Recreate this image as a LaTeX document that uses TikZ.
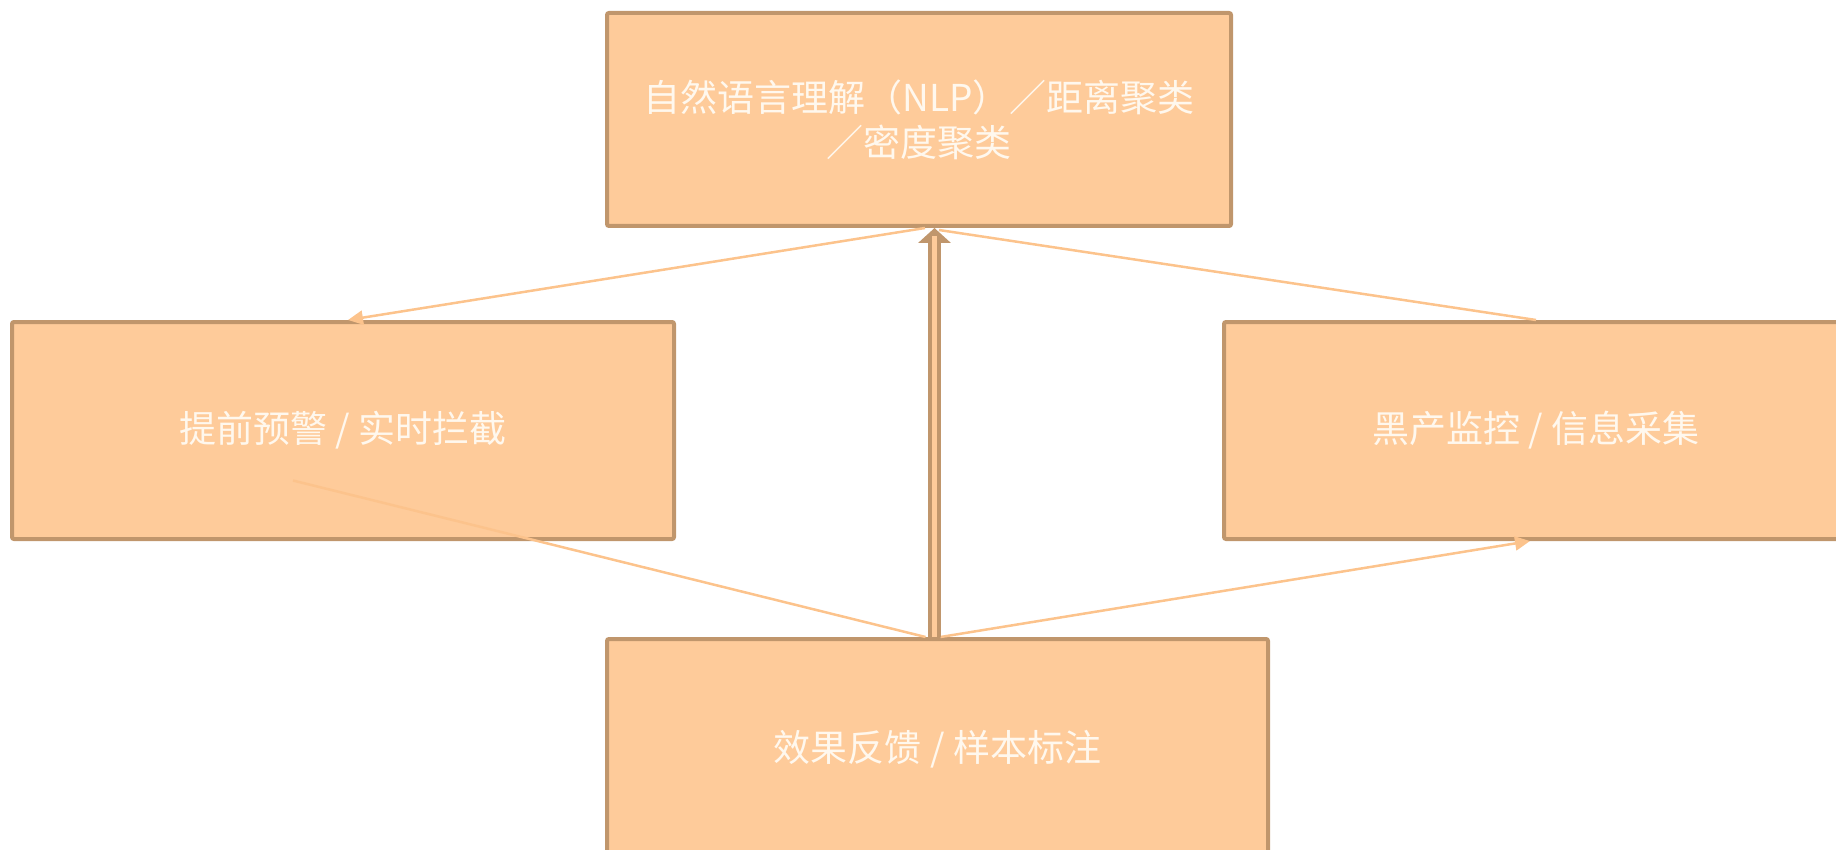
\documentclass[tikz,border=0pt]{standalone}
\usepackage{fontspec}
\newfontfamily\cjk{Noto Sans CJK SC}
\usetikzlibrary{calc,arrows.meta}
\definecolor{boxfill}{HTML}{FECB9A}
\definecolor{boxline}{HTML}{C0966C}
\definecolor{link}{HTML}{FCC38C}
\definecolor{txt}{HTML}{FFF8EE}
\newcommand{\lowtext}[1]{\raisebox{-4pt}{#1}}
\tikzset{
  stagebox/.style={draw=boxline, fill=boxfill, line width=4pt, rounded corners=2pt,
    inner sep=0pt, font=\cjk\fontsize{37}{45}\selectfont, text=txt, align=center},
  flow/.style={draw=link, line width=2.5pt},
  flowhead/.style={flow, -{Triangle[length=15pt,width=14pt,fill=link]}},
}
\begin{document}
\begin{tikzpicture}[x=1pt,y=-1pt]
\useasboundingbox (0,0) rectangle (1836,850);
\node[stagebox, minimum width=624pt, minimum height=213pt] (top) at (919,119.5)
  {自然语言理解（NLP）／距离聚类\\／密度聚类};
\node[stagebox, minimum width=662pt, minimum height=217pt] (left) at (343,430.5)
  {\lowtext{提前预警 / 实时拦截}};
\node[stagebox, minimum width=624pt, minimum height=217pt] (right) at (1536,430.5)
  {\lowtext{黑产监控 / 信息采集}};
\node[stagebox, minimum width=661pt, minimum height=220pt] (bot) at (937.5,749)
  {\lowtext{效果反馈 / 样本标注}};
\coordinate (lend) at ($(left.center)+(-50,50)$);
\coordinate (dbl) at ($(bot.north)+(-3,0)$);
% connectors
\draw[flowhead] ($(top.south)+(6,0)$) -- ($(left.north)+(5,0)$);
\draw[flow] (right.north) -- ($(top.south)+(20,2)$);
\draw[flow] ($(bot.north)+(-12,0)$) -- (lend);
\draw[flowhead] ($(bot.north)+(3,0)$) -- ($(right.south)+(-6,0)$);
% double arrow
\draw[boxline, line width=13pt, -{Triangle[length=15pt,width=32pt]}] (dbl) -- (dbl |- top.south);
\draw[boxfill, line width=4.5pt, shorten >=4pt] (dbl) -- ($(dbl |- top.south)+(0,4)$);
\end{tikzpicture}
\end{document}
